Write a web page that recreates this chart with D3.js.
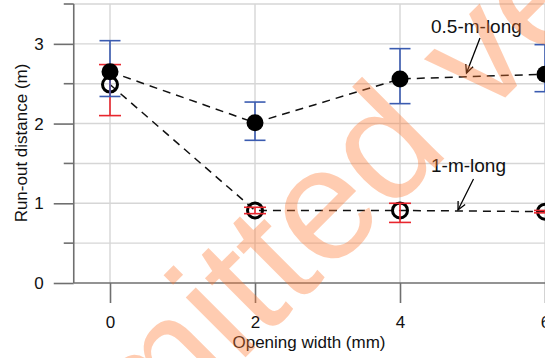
<!DOCTYPE html>
<html><head><meta charset="utf-8">
<script src="https://cdn.jsdelivr.net/npm/d3@7"></script>
<style>
html,body{margin:0;padding:0;background:#fff;}
svg{display:block;font-family:"Liberation Sans",Arial,sans-serif;}
</style></head>
<body>
<script>
const openingWidth = [0, 2, 4, 6];
const seriesNames = ["0.5-m-long", "1-m-long"];
const halfMeterMean = [2.65, 2.01, 2.56, 2.62];
const halfMeterLow  = [2.34, 1.79, 2.25, 2.40];
const halfMeterHigh = [3.04, 2.27, 2.94, 2.99];
const oneMeterMean  = [2.49, 0.91, 0.91, 0.895];
const oneMeterLow   = [2.10, 0.87, 0.76, 0.88];
const oneMeterHigh  = [2.74, 0.95, 1.00, 0.91];
const yTicks = [0, 1, 2, 3];
const yMinorTicks = [0.5, 1.5, 2.5, 3.5];
const xTicks = [0, 2, 4, 6];

const W = 545, H = 358;
const svg = d3.select("body").append("svg").attr("width", W).attr("height", H);

const x = d3.scaleLinear().domain([-0.5, 6.5]).range([73.75, 581.25]);
const y = d3.scaleLinear().domain([0, 3.5]).range([283, 4]);
const axisColor = "#6f6f6f", gridColor = "#d6d6d6";

// gridlines
const gridY = d3.range(0.5, 3.51, 0.5);
svg.append("g").selectAll("line").data(gridY).join("line")
  .attr("x1", x(-0.5)).attr("x2", W).attr("y1", d => y(d)).attr("y2", d => y(d))
  .attr("stroke", gridColor).attr("stroke-width", 1.4);
svg.append("g").selectAll("line").data(xTicks).join("line")
  .attr("x1", d => x(d)).attr("x2", d => x(d)).attr("y1", y(3.5)).attr("y2", y(0))
  .attr("stroke", gridColor).attr("stroke-width", 1.4);

// axes
const yAxis = d3.axisLeft(y).tickValues(yTicks).tickSize(20).tickPadding(10).tickFormat(d3.format("d"));
const gy = svg.append("g").attr("transform", `translate(${x(-0.5)},0)`).call(yAxis);
gy.select(".domain").remove();
gy.append("line").attr("x1", 0).attr("x2", 0).attr("y1", y(3.5)).attr("y2", y(0)).attr("stroke", axisColor).attr("stroke-width", 1.6);
gy.selectAll(".tick line").attr("stroke", axisColor).attr("stroke-width", 1.6);
gy.selectAll(".tick text").attr("font-size", 17).attr("fill", "#111").attr("font-family", "Liberation Sans, Arial, sans-serif");
gy.selectAll(".minor").data(yMinorTicks).join("line").attr("class", "minor")
  .attr("x1", -10).attr("x2", 0).attr("y1", d => y(d)).attr("y2", d => y(d))
  .attr("stroke", axisColor).attr("stroke-width", 1.6);

const xAxis = d3.axisBottom(x).tickValues(xTicks).tickSize(20).tickPadding(13).tickFormat(d3.format("d"));
const gx = svg.append("g").attr("transform", `translate(0,${y(0)})`).call(xAxis);
gx.select(".domain").remove();
gx.append("line").attr("x1", x(-0.5)).attr("x2", W).attr("y1", 0).attr("y2", 0).attr("stroke", axisColor).attr("stroke-width", 1.6);
gx.selectAll(".tick line").attr("stroke", axisColor).attr("stroke-width", 1.6);
gx.selectAll(".tick text").attr("font-size", 17).attr("fill", "#111").attr("font-family", "Liberation Sans, Arial, sans-serif");

// axis titles
svg.append("text").attr("x", 309).attr("y", 348).attr("text-anchor", "middle")
  .attr("font-size", 17).attr("fill", "#111").text("Opening width (mm)");
svg.append("text").attr("transform", "translate(27,143) rotate(-90)").attr("text-anchor", "middle")
  .attr("font-size", 17).attr("fill", "#111").text("Run-out distance (m)");

// dashed lines
const line = d3.line().x(d => x(d[0])).y(d => y(d[1]));
const s1 = openingWidth.map((w, i) => [w, halfMeterMean[i]]);
const s2 = openingWidth.map((w, i) => [w, oneMeterMean[i]]);
[s1, s2].forEach(s => svg.append("path").attr("d", line(s)).attr("fill", "none")
  .attr("stroke", "#111").attr("stroke-width", 1.5).attr("stroke-dasharray", "8,6"));

function errBars(low, high, color, cap) {
  const g = svg.append("g").attr("stroke", color).attr("stroke-width", 1.6);
  openingWidth.forEach((w, i) => {
    g.append("line").attr("x1", x(w)).attr("x2", x(w)).attr("y1", y(low[i])).attr("y2", y(high[i]));
    [low[i], high[i]].forEach(v => g.append("line").attr("x1", x(w) - cap).attr("x2", x(w) + cap).attr("y1", y(v)).attr("y2", y(v)));
  });
}
// open markers
svg.append("g").selectAll("circle").data(s2).join("circle")
  .attr("cx", d => x(d[0])).attr("cy", d => y(d[1])).attr("r", 7.5)
  .attr("fill", "none").attr("stroke", "#000").attr("stroke-width", 3);
errBars(oneMeterLow, oneMeterHigh, "#e8262e", 11);
errBars(halfMeterLow, halfMeterHigh, "#3a5bb0", 10.5);
svg.append("g").selectAll("circle").data(s1).join("circle")
  .attr("cx", d => x(d[0])).attr("cy", d => y(d[1])).attr("r", 8.5).attr("fill", "#000");

// annotations
function arrow(x1, y1, x2, y2) {
  svg.append("line").attr("x1", x1).attr("y1", y1).attr("x2", x2).attr("y2", y2).attr("stroke", "#000").attr("stroke-width", 1.3);
  const a = Math.atan2(y2 - y1, x2 - x1), L = 9, s = 0.45;
  const p = [[x2 - L * Math.cos(a - s), y2 - L * Math.sin(a - s)], [x2, y2], [x2 - L * Math.cos(a + s), y2 - L * Math.sin(a + s)]];
  svg.append("path").attr("d", d3.line()(p)).attr("fill", "none").attr("stroke", "#000").attr("stroke-width", 1.3);
}
svg.append("text").attr("x", 431).attr("y", 33).attr("font-size", 19).attr("fill", "#111").text(seriesNames[0]);
arrow(480, 38, 466.5, 73);
svg.append("text").attr("x", 431).attr("y", 172).attr("font-size", 19).attr("fill", "#111").text(seriesNames[1]);
arrow(473.5, 179, 458, 210);

// watermark
const wmAngle = -45, wmF = 160;
const wg = svg.append("g").attr("transform", `translate(143.7,459.1) rotate(${wmAngle})`);
const wt = wg.append("text").attr("font-size", wmF).attr("fill", "#ff7a33").attr("fill-opacity", 0.38).text("Submitted version");
const off = wt.node().getSubStringLength(0, 3);
wt.attr("x", -off);
</script>
</body></html>
